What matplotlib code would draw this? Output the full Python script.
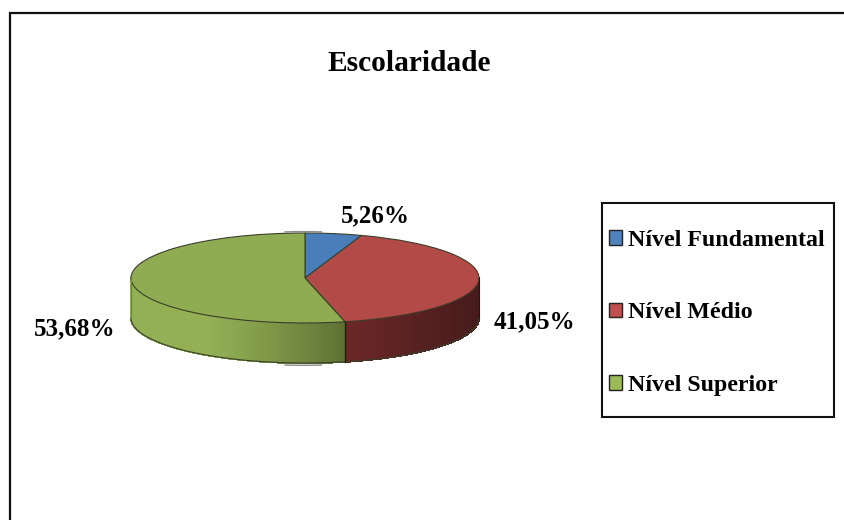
import numpy as np
import matplotlib
matplotlib.use('Agg')
import matplotlib.pyplot as plt
from matplotlib.collections import PolyCollection
from matplotlib.colors import to_rgb
from matplotlib.patches import Patch, Rectangle

W, H = 844, 520
FONT = 'Liberation Serif'

categories = ['Nível Fundamental', 'Nível Médio', 'Nível Superior']
values = [5.26, 41.05, 53.68]
value_labels = ['5,26%', '41,05%', '53,68%']
colors = ['#4a7ebb', '#b24a48', '#8fac52']
side_light = ['#4a7ebb', '#6c2827', '#93b055']
side_dark = ['#2c4a70', '#471b1c', '#5e7134']
legend_colors = ['#4f81bd', '#c0504d', '#9bbb59']

# ellipse of the pie top in pixels
cx, cy, rx, ry = 305, 278, 174, 45
depth = 40


def px_rect(x0, y0, x1, y1):
    return [x0 / W, 1 - y1 / H, (x1 - x0) / W, (y1 - y0) / H]


fig = plt.figure(figsize=(W / 100, H / 100), dpi=100)

# outer chart border runs off the right and bottom of the picture
bg = fig.add_axes([0, 0, 1, 1])
bg.set_xlim(0, W)
bg.set_ylim(H, 0)
bg.axis('off')
bg.plot([9.5, 9.5, W + 5], [H + 5, 12.5, 12.5], color='#111111', lw=1.6, solid_joinstyle='miter')
bg.add_patch(Rectangle((602, 203), 232, 214, facecolor='white', edgecolor='#111111', lw=1.5))

# axes is 1 unit = rx / ry pixels, so the round pie comes out flattened
ax = fig.add_axes(px_rect(cx - rx - 5, cy - ry - 5, cx + rx + 5, cy + ry + depth + 5))
wedges, _ = ax.pie(values, colors=colors, startangle=90, counterclock=False, radius=1,
                   wedgeprops={'edgecolor': '#3a3f2a', 'linewidth': 0.8})
ax.set_aspect('auto')
ax.set_xlim(-1 - 5 / rx, 1 + 5 / rx)
ax.set_ylim(-(ry + depth + 5) / ry, 1 + 5 / ry)
drop = depth / ry

# side wall, cut in narrow strips for the shading
edges = 90 - np.cumsum([0] + values) / sum(values) * 360
for i in range(len(values)):
    a0, a1 = max(edges[i + 1], -180), min(edges[i], 0)
    if a1 <= a0:
        continue
    t = np.radians(np.linspace(a0, a1, 120))
    polys = []
    cols = []
    light = np.array(to_rgb(side_light[i]))
    dark = np.array(to_rgb(side_dark[i]))
    x = np.cos(t)
    y = np.sin(t)
    for k in range(len(t) - 1):
        polys.append([(x[k], y[k]), (x[k + 1], y[k + 1]), (x[k + 1], y[k + 1] - drop), (x[k], y[k] - drop)])
        f = (x[k] - x.min()) / (x.max() - x.min())
        if i == 2:
            # green stays flat on the left, then darkens towards the red seam
            f = max(0, (f - 0.35) / 0.65) ** 1.2
        cols.append(light + (dark - light) * f)
    ax.add_collection(PolyCollection(polys, facecolors=cols, edgecolors=cols, linewidths=0.8,
                                     antialiaseds=False, zorder=0.5))
    ax.plot(x, y - drop, color='#3a3f2a', lw=0.8, zorder=1.5, clip_on=False)
# seam between red and green on the wall
seam = np.radians(edges[2])
ax.plot([np.cos(seam)] * 2, [np.sin(seam), np.sin(seam) - drop], color='#2a1a12', lw=1.0, zorder=1.5)
ax.plot([-1, -1], [0, -drop], color='#6f8040', lw=0.8, zorder=1.5)
ax.plot([1, 1], [0, -drop], color='#2a1212', lw=0.8, zorder=1.5)

# grey rim marks above and below the pie
for off, a_mid in ((0.03, 90), (-drop - 0.05, -90)):
    t = np.radians(np.linspace(a_mid - 6, a_mid + 6, 20))
    ax.plot(np.cos(t) - 0.01, np.sin(t) + off, color='#8a8a8a', lw=1.0, zorder=1.4, clip_on=False)

# title and value labels
fig.text(409.5 / W, 1 - 63.5 / H, 'Escolaridade', family=FONT, weight='bold', fontsize=21.2,
         color='black', ha='center', va='center')
label_pos = [(375, 216), (534, 322), (75, 329)]
for s, (lx, ly) in zip(value_labels, label_pos):
    fig.text(lx / W, 1 - ly / H, s, family=FONT, weight='bold', fontsize=18,
             color='black', ha='center', va='center')

# legend, its box is the rectangle drawn above
handles = [Patch(facecolor=c, edgecolor='#222222', linewidth=1.0) for c in legend_colors]
fig.legend(handles, categories, loc='center left', bbox_to_anchor=(609 / W, 1 - 313 / H),
           frameon=False, prop={'family': FONT, 'weight': 'bold', 'size': 17.2},
           handlelength=0.55, handleheight=0.55, handletextpad=0.25, labelspacing=2.15,
           borderpad=0, borderaxespad=0)

fig.savefig('out.png', dpi=100)
